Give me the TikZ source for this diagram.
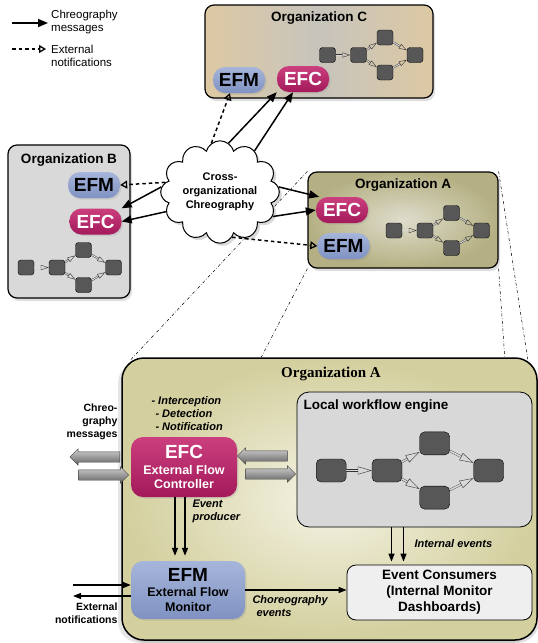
\documentclass[tikz,border=0pt]{standalone}
\usepackage{fontspec}
\setmainfont{Liberation Sans}
\newfontfamily\serifbf{Liberation Serif}
\usetikzlibrary{arrows.meta,positioning,shapes.symbols,shapes.arrows,shadows,backgrounds}

\tikzset{
  wfbox/.style={draw=black, fill=wfgray, rounded corners=3pt,
    minimum width=16pt, minimum height=15pt, inner sep=0pt},
  wfarrow/.style={draw=black!80, double=gray!30, double distance=1pt,
    -{Triangle[open,length=8pt,width=5pt]}},
  miniflow/.pic={
    \node[wfbox] (-a) at (-31,0) {};
    \node[wfbox] (-b) at (0,0) {};
    \node[wfbox] (-c) at (26.5,-17.5) {};
    \node[wfbox] (-d) at (26.5,17.5) {};
    \node[wfbox] (-e) at (56.5,0) {};
    \draw[wfarrow] (-a) -- (-b);
    \draw[wfarrow] (-b) -- (-c);
    \draw[wfarrow] (-b) -- (-d);
    \draw[wfarrow] (-c) -- (-e);
    \draw[wfarrow] (-d) -- (-e);
  }
}

\begin{document}
\begin{tikzpicture}[x=1pt,y=-1pt,
  orgbox/.style={draw=black, line width=1.2pt, rounded corners=9pt, inner sep=0pt,
    drop shadow={opacity=.25,shadow xshift=2pt,shadow yshift=-3pt}},
  orgtitle/.style={font=\bfseries\fontsize{13.5}{16}\selectfont},
  pill/.style={rounded corners=12pt, minimum width=52pt, minimum height=26pt,
    inner sep=0pt, font=\bfseries\fontsize{19}{22}\selectfont,
    drop shadow={opacity=.2,shadow xshift=1.5pt,shadow yshift=-1.5pt}},
  efc/.style={pill, top color=efctop, bottom color=efcbot, text=white},
  efm/.style={pill, top color=efmtop, bottom color=efmbot, text=black},
  chmsg/.style={line width=1.5pt, -{Triangle[length=10pt,width=8pt]}},
  extnote/.style={line width=1.5pt, dash pattern=on 3.5pt off 3pt,
    -{Triangle[open,length=7pt,width=8pt,line width=1.3pt]}},
  evarrow/.style={line width=1.3pt, -{Triangle[length=8pt,width=6pt]}},
  zoomline/.style={line width=.5pt, dash dot},
  blockarrow/.style={single arrow, draw=black!75, top color=gray!35,
    bottom color=gray!75!black, minimum height=50pt, inner sep=0pt,
    text width=0pt, text height=5pt, text depth=5pt,
    single arrow head extend=3pt},
  annot/.style={font=\bfseries\itshape\fontsize{11}{13}\selectfont, align=left},
  sidetxt/.style={font=\bfseries\fontsize{10.5}{13}\selectfont, align=right},
  legendtxt/.style={font=\fontsize{11.5}{13.5}\selectfont, align=left,
    anchor=west, inner sep=0pt}
]
\definecolor{efctop}{HTML}{CB3F7E}
\definecolor{efcbot}{HTML}{A3195A}
\definecolor{efmtop}{HTML}{A6B5DA}
\definecolor{efmbot}{HTML}{7F92C2}
\definecolor{wfgray}{HTML}{575757}
\definecolor{orgctan}{HTML}{DDC9A3}
\definecolor{orgcgray}{HTML}{C7C4BC}
\definecolor{orgbgray}{HTML}{D9D9D9}
\definecolor{olivedark}{HTML}{B5B083}
\definecolor{olivelight}{HTML}{DEDDCC}
\definecolor{bigout}{HTML}{D3CF9E}
\definecolor{bigin}{HTML}{F4F3E4}
\definecolor{enginegray}{HTML}{D8D8D8}
\definecolor{consumerfill}{HTML}{EFEFEF}
\useasboundingbox (0,0) rectangle (538,643);

% Legend
\coordinate (lg1a) at (12,23);
\coordinate (lg1b) at (48,23);
\draw[chmsg] (lg1a) -- (lg1b);
\node[legendtxt] (lg1) at (51,22) {Chreography\\messages};
\coordinate (lg2a) at (12,49);
\coordinate (lg2b) at (46,49);
\draw[extnote] (lg2a) -- (lg2b);
\node[legendtxt] (lg2) at (51,56) {External\\notifications};

% Organization C
\node[orgbox, left color=orgctan, right color=orgctan, middle color=orgcgray,
  minimum width=228pt, minimum height=93pt] (orgc) at (319,51.5) {};
\node[orgtitle] (orgctitle) at (319,18) {Organization C};
\node[efm] (efmc) at (239,80) {EFM};
\node[efc] (efcc) at (303,79) {EFC};
\pic (wfc) at (358.5,55) {miniflow};

% Organization B
\node[orgbox, fill=orgbgray, minimum width=122pt, minimum height=153pt] (orgb) at (69,221.5) {};
\node[orgtitle] (orgbtitle) at (69,160) {Organization B};
\node[efm] (efmb) at (94,185) {EFM};
\node[efc] (efcb) at (95.5,221.5) {EFC};
\pic (wfb) at (57,267.5) {miniflow};

% Organization A (overview)
\node[orgbox, inner color=olivelight, outer color=olivedark,
  minimum width=190pt, minimum height=96pt] (orga) at (403,220) {};
\node[orgtitle] (orgatitle) at (403,185) {Organization A};
\node[efc] (efca) at (342,210) {EFC};
\node[efm] (efma) at (343.5,246) {EFM};
\pic (wfa) at (425,230.5) {miniflow};

% Cross-organizational choreography
\node[cloud, cloud puffs=12, aspect=1.25, draw, line width=1pt, fill=white,
  minimum width=104pt, minimum height=84pt, inner sep=0pt,
  drop shadow={opacity=.3}, align=center,
  font=\bfseries\fontsize{11}{14}\selectfont] (cloud) at (220,192)
  {Cross-\\organizational\\Chreography};

\draw[extnote] (cloud.100) -- ([xshift=-9pt]efmc.south);
\draw[chmsg] (cloud.80) -- (efcc.south west);
\draw[chmsg] (cloud.50) -- ([xshift=-10pt]efcc.south);
\draw[extnote] (cloud.170) -- (efmb.east);
\draw[chmsg] (cloud.175) -- (efcb.north east);
\draw[chmsg] (cloud.200) -- (efcb.east);
\draw[chmsg] (cloud.5) -- (efca.150);
\draw[chmsg] (cloud.-25) -- (efca.west);
\draw[extnote] (cloud.-75) -- (efma.west);

% Organization A (detail)
\node[orgbox, line width=1.5pt, rounded corners=22pt, inner color=bigin, outer color=bigout,
  minimum width=415pt, minimum height=282pt,
  drop shadow={opacity=.2,shadow xshift=-4pt,shadow yshift=-3pt}] (orgabig) at (329.5,499) {};
\node[font=\serifbf\bfseries\fontsize{15}{18}\selectfont] (orgabigtitle) at (331,374) {Organization A};

\node[draw=black, line width=.8pt, fill=enginegray, rounded corners=12pt,
  minimum width=235pt, minimum height=135pt] (engine) at (414.5,459.5) {};
\node[font=\bfseries\fontsize{13.5}{16}\selectfont, anchor=west] (enginetitle) at (300,406) {Local workflow engine};
\pic[xscale=1.8, yscale=1.55,
  wfbox/.append style={minimum width=30pt, minimum height=23pt, rounded corners=5pt},
  wfarrow/.append style={double distance=1.5pt, -{Triangle[open,length=14pt,width=8pt]}}]
  (wfbig) at (387,470.5) {miniflow};

\node[efc, rounded corners=12pt, minimum width=106pt, minimum height=60pt, align=center,
  font=\bfseries\fontsize{12.5}{14.5}\selectfont] (efcbig) at (184,467)
  {{\fontsize{19}{22}\selectfont EFC}\\[1pt] External Flow\\Controller};
\node[efm, rounded corners=12pt, minimum width=114pt, minimum height=58pt, align=center,
  font=\bfseries\fontsize{12.5}{14.5}\selectfont] (efmbig) at (188,590)
  {{\fontsize{19}{22}\selectfont EFM}\\[1pt] External Flow\\Monitor};
\node[draw=black, line width=.8pt, fill=consumerfill, rounded corners=9pt,
  minimum width=185pt, minimum height=55pt, align=center,
  font=\bfseries\fontsize{13.5}{16}\selectfont] (consumers) at (439.5,592.5)
  {Event Consumers\\(Internal Monitor\\Dashboards)};

% Message flows
\node[blockarrow, shape border rotate=180] (msgout) at (97.5,457) {};
\node[blockarrow] (msgin) at (101,475) {};
\node[blockarrow, shape border rotate=180] (wfout) at (265,456) {};
\node[blockarrow] (wfin) at (268,474) {};

\node[sidetxt, anchor=east] (chmsgtxt) at (121,422) {Chreo-\\graphy\\messages};
\node[annot, anchor=west] (efctasks) at (148,414)
  {- Interception\\\hspace*{4pt}- Detection\\\hspace*{4pt}- Notification};
\node[annot, anchor=west] (prodtxt) at (189,511) {Event\\producer};
\node[sidetxt, anchor=east] (exttxt) at (121,613) {External\\notifications};
\node[annot, anchor=west] (choretxt) at (249,606) {Choreography\\\hspace*{4pt}events};
\node[annot, anchor=west] (inttxt) at (411,544) {Internal events};

\draw[evarrow, shorten >=5pt] ([xshift=-9pt]efcbig.south) -- ([xshift=-9pt]efcbig.south |- efmbig.north);
\draw[evarrow, shorten >=5pt] ([xshift=1pt]efcbig.south) -- ([xshift=1pt]efcbig.south |- efmbig.north);
\draw[evarrow, shorten >=3pt] ([xshift=-23pt]engine.south) -- ([xshift=-23pt]engine.south |- consumers.north);
\draw[evarrow, shorten >=3pt] ([xshift=-11pt]engine.south) -- ([xshift=-11pt]engine.south |- consumers.north);
\draw[evarrow] (efmbig.east) -- (efmbig.east -| consumers.west);
\coordinate (extin) at (73,585);
\coordinate (extout) at (73,596);
\draw[evarrow] (extin) -- (extin -| efmbig.west);
\draw[evarrow] (extout -| efmbig.west) -- (extout);

% Zoom lines
\begin{scope}[on background layer]
\draw[zoomline] (orga.north west) -- ([shift={(9,3)}]orgabig.north west);
\draw[zoomline] (orga.south west) -- ([xshift=140pt]orgabig.north west);
\draw[zoomline] (orga.north east) -- ([shift={(-10,2)}]orgabig.north east);
\draw[zoomline] (orga.south east) -- ([xshift=-33pt]orgabig.north east);
\end{scope}
\end{tikzpicture}
\end{document}
